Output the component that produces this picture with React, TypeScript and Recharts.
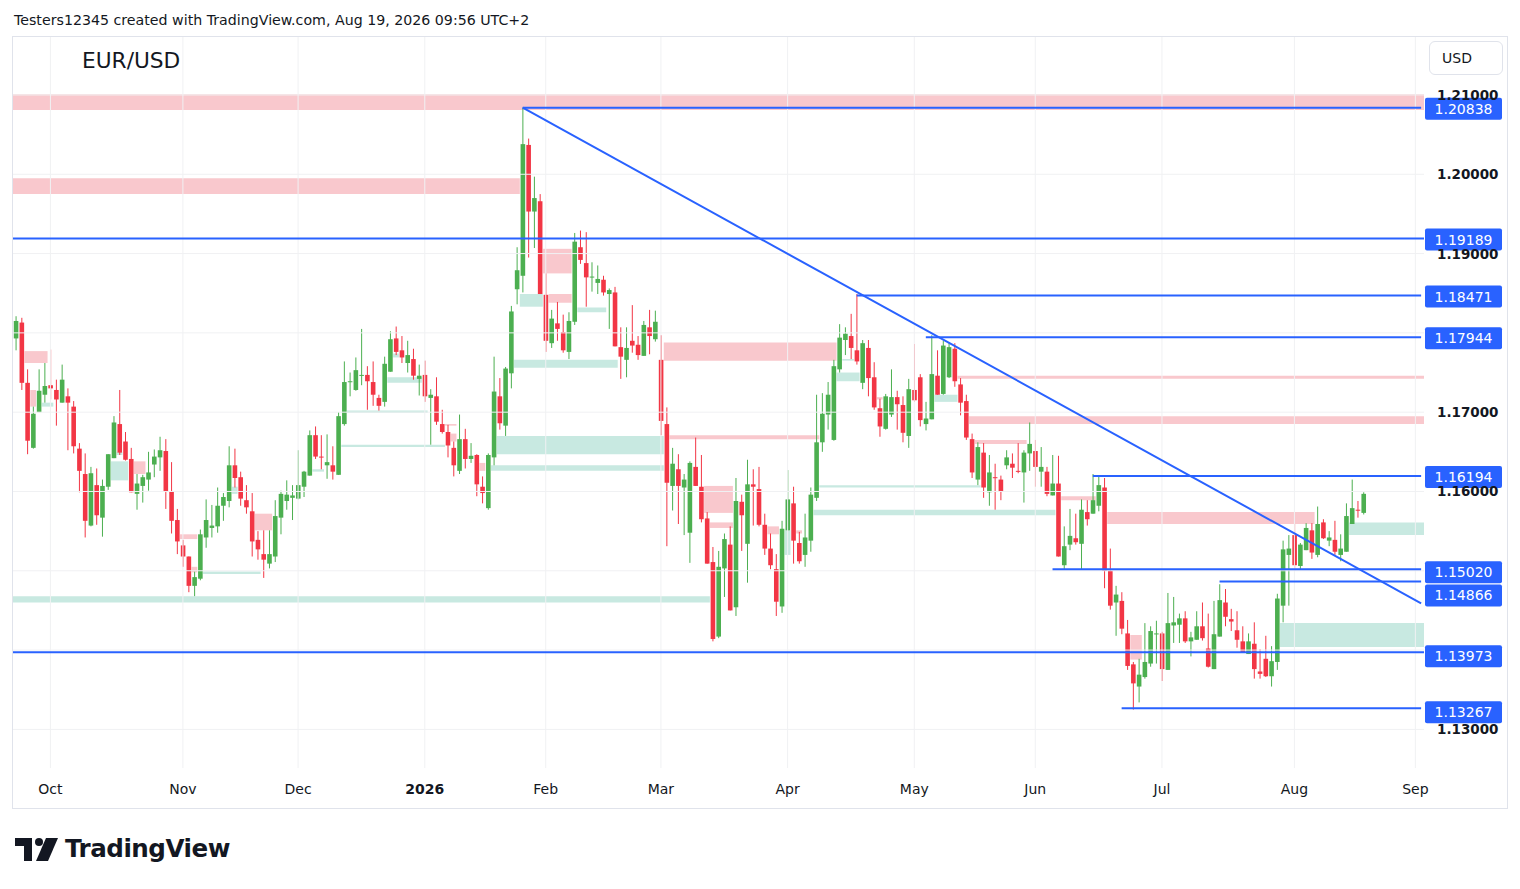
import React from 'react';
import { ComposedChart, Bar, XAxis, YAxis, ReferenceArea, ReferenceLine } from 'recharts';

const FONT = '"DejaVu Sans", Verdana, sans-serif';
const GREEN = '#4caf50';
const RED = '#f23645';
const BLUE = '#2962ff';
const PINK = '#f9c8cd';
const TEAL = '#c8e9e1';
const GRID = '#f0f1f3';
const INK = '#131722';

// daily EUR/USD candles, 2025-09-23 .. 2026-08-19
const open = [
  1.1793, 1.1813, 1.1737, 1.1655, 1.17, 1.1722, 1.1734, 1.1728, 1.1712, 1.172,
  1.1707, 1.1654, 1.1622, 1.1557, 1.1608, 1.1567, 1.1606, 1.1642, 1.1685, 1.1663,
  1.1641, 1.1597, 1.1607, 1.1615, 1.1634, 1.1643, 1.1651, 1.16, 1.1564, 1.1532,
  1.1518, 1.1481, 1.149, 1.1542, 1.1554, 1.1556, 1.1582, 1.1588, 1.1633, 1.1618,
  1.1589, 1.1575, 1.1539, 1.1521, 1.1509, 1.1518, 1.1567, 1.1588, 1.1592, 1.1591,
  1.1606, 1.162, 1.1671, 1.1644, 1.1633, 1.1633, 1.1621, 1.1685, 1.1738, 1.1728,
  1.1746, 1.1747, 1.1738, 1.1718, 1.1713, 1.1751, 1.1793, 1.1778, 1.1762, 1.1767,
  1.1742, 1.1747, 1.1718, 1.172, 1.1685, 1.1675, 1.1655, 1.1626, 1.1666, 1.1641,
  1.1646, 1.1606, 1.1579, 1.1643, 1.172, 1.1683, 1.1749, 1.1855, 1.1872, 1.2037,
  1.1953, 1.1966, 1.1848, 1.1787, 1.1812, 1.1801, 1.1776, 1.1814, 1.1908, 1.1888,
  1.187, 1.1863, 1.1867, 1.1849, 1.1851, 1.1782, 1.1766, 1.179, 1.1785, 1.1771,
  1.1807, 1.1792, 1.1766, 1.1685, 1.1607, 1.1628, 1.1605, 1.1548, 1.1631, 1.1606,
  1.1566, 1.1511, 1.1417, 1.1503, 1.1533, 1.1454, 1.1587, 1.1534, 1.1609, 1.1603,
  1.1558, 1.1528, 1.1502, 1.1455, 1.1551, 1.1585, 1.1535, 1.152, 1.1538, 1.1592,
  1.1662, 1.1697, 1.1665, 1.1754, 1.1791, 1.1796, 1.1778, 1.1737, 1.1781, 1.1744,
  1.1705, 1.1679, 1.1697, 1.1719, 1.1709, 1.167, 1.1728, 1.1744, 1.1685, 1.1691,
  1.1746, 1.1723, 1.1744, 1.178, 1.1735, 1.1714, 1.1666, 1.1615, 1.1649, 1.1599,
  1.1618, 1.1615, 1.1633, 1.1635, 1.1626, 1.1624, 1.1648, 1.1651, 1.1625, 1.1625,
  1.1595, 1.161, 1.1507, 1.1533, 1.1541, 1.1534, 1.1574, 1.1572, 1.1582, 1.1605,
  1.15, 1.146, 1.1462, 1.1421, 1.1382, 1.1354, 1.1366, 1.1383, 1.142, 1.1421,
  1.1375, 1.1431, 1.1432, 1.144, 1.1411, 1.1413, 1.143, 1.1402, 1.1376, 1.1417,
  1.146, 1.1439, 1.1425, 1.1411, 1.1395, 1.1408, 1.1373, 1.1389, 1.1367, 1.1385,
  1.1456, 1.152, 1.1545, 1.1506, 1.1526, 1.1551, 1.152, 1.1561, 1.1538, 1.1539,
  1.152, 1.1524, 1.1559, 1.1577, 1.1573,
];
const high = [
  1.1821, 1.1819, 1.1754, 1.1707, 1.1754, 1.1762, 1.1779, 1.1741, 1.176, 1.173,
  1.1714, 1.1661, 1.1648, 1.1631, 1.1629, 1.1615, 1.1647, 1.1695, 1.1728, 1.1675,
  1.1655, 1.1622, 1.1621, 1.165, 1.1653, 1.1669, 1.1666, 1.1637, 1.1578, 1.1539,
  1.1518, 1.1499, 1.1552, 1.159, 1.1583, 1.1605, 1.1598, 1.1657, 1.1654, 1.1625,
  1.1608, 1.1598, 1.155, 1.1551, 1.1551, 1.1589, 1.1601, 1.1614, 1.1608, 1.1652,
  1.1626, 1.1677, 1.1682, 1.1671, 1.1672, 1.1657, 1.17, 1.1764, 1.175, 1.1769,
  1.1805, 1.1758, 1.1764, 1.1722, 1.177, 1.1802, 1.1808, 1.1796, 1.179, 1.178,
  1.176, 1.1765, 1.1729, 1.1744, 1.1703, 1.1684, 1.1663, 1.1697, 1.1679, 1.1661,
  1.1647, 1.1619, 1.1648, 1.177, 1.1743, 1.1757, 1.1834, 1.1908, 1.2084, 1.2045,
  1.1997, 1.1975, 1.1875, 1.1829, 1.1839, 1.1823, 1.1826, 1.1926, 1.1929, 1.1927,
  1.1889, 1.1885, 1.1872, 1.1856, 1.1858, 1.1807, 1.1807, 1.1835, 1.1796, 1.1815,
  1.1829, 1.1828, 1.1797, 1.1706, 1.1655, 1.1647, 1.1622, 1.1638, 1.1668, 1.1646,
  1.1574, 1.153, 1.1525, 1.1547, 1.1556, 1.1617, 1.1596, 1.164, 1.1628, 1.1631,
  1.1572, 1.1547, 1.1521, 1.1563, 1.1627, 1.1606, 1.1549, 1.1572, 1.1605, 1.1722,
  1.1724, 1.1738, 1.1766, 1.1811, 1.1807, 1.1824, 1.1849, 1.1791, 1.1791, 1.1763,
  1.1717, 1.1723, 1.1754, 1.1727, 1.172, 1.1742, 1.1786, 1.1748, 1.1713, 1.1797,
  1.1778, 1.179, 1.1788, 1.1787, 1.1743, 1.1722, 1.1673, 1.1662, 1.1661, 1.1646,
  1.1635, 1.162, 1.1652, 1.1648, 1.1661, 1.1652, 1.1687, 1.1665, 1.1656, 1.1631,
  1.1646, 1.1645, 1.1556, 1.1578, 1.1572, 1.159, 1.1589, 1.1622, 1.162, 1.1617,
  1.1528, 1.1481, 1.1473, 1.1438, 1.1385, 1.1389, 1.1434, 1.143, 1.1437, 1.1423,
  1.1472, 1.1467, 1.1446, 1.1449, 1.1423, 1.1449, 1.146, 1.1446, 1.1462, 1.1483,
  1.1477, 1.1452, 1.1449, 1.143, 1.1421, 1.1435, 1.1401, 1.1418, 1.1405, 1.1471,
  1.1538, 1.1545, 1.1559, 1.1535, 1.156, 1.156, 1.1581, 1.1565, 1.155, 1.1563,
  1.1546, 1.1585, 1.1615, 1.1588, 1.1599,
];
const low = [
  1.1778, 1.1728, 1.1647, 1.1654, 1.17, 1.1712, 1.1716, 1.1683, 1.1712, 1.1652,
  1.1648, 1.1599, 1.1542, 1.1556, 1.1558, 1.1543, 1.1602, 1.1642, 1.1646, 1.1639,
  1.1599, 1.1577, 1.1586, 1.1601, 1.1618, 1.1626, 1.1578, 1.1547, 1.1521, 1.1505,
  1.1473, 1.1468, 1.1488, 1.1529, 1.1542, 1.1548, 1.1563, 1.158, 1.1605, 1.1582,
  1.1572, 1.1518, 1.1514, 1.1491, 1.1503, 1.1511, 1.1546, 1.1577, 1.1564, 1.159,
  1.1593, 1.162, 1.1641, 1.1628, 1.1616, 1.1615, 1.1621, 1.1683, 1.172, 1.1727,
  1.1734, 1.1703, 1.1708, 1.1702, 1.1707, 1.1751, 1.1772, 1.1762, 1.175, 1.1741,
  1.1721, 1.1713, 1.1659, 1.1684, 1.1673, 1.1643, 1.1619, 1.1622, 1.1629, 1.1636,
  1.1594, 1.1585, 1.1577, 1.1633, 1.1678, 1.167, 1.173, 1.1836, 1.1851, 1.1895,
  1.1907, 1.1849, 1.1776, 1.1781, 1.179, 1.1775, 1.1767, 1.181, 1.1887, 1.1833,
  1.1852, 1.1849, 1.1847, 1.1805, 1.1783, 1.1742, 1.1744, 1.1775, 1.1766, 1.1771,
  1.1773, 1.1789, 1.1671, 1.1531, 1.1576, 1.1559, 1.1545, 1.151, 1.1607, 1.1561,
  1.1509, 1.1411, 1.1415, 1.1467, 1.145, 1.1443, 1.1525, 1.1485, 1.1557, 1.1556,
  1.152, 1.1502, 1.1443, 1.1447, 1.1551, 1.1509, 1.1509, 1.1505, 1.1524, 1.1588,
  1.165, 1.1678, 1.1664, 1.175, 1.1772, 1.1767, 1.176, 1.1729, 1.172, 1.1703,
  1.1669, 1.1678, 1.1694, 1.1678, 1.1662, 1.1655, 1.1713, 1.1682, 1.1677, 1.1691,
  1.1722, 1.1722, 1.1743, 1.1732, 1.1696, 1.1665, 1.1617, 1.1608, 1.1592, 1.1582,
  1.1577, 1.1589, 1.1628, 1.1617, 1.1623, 1.1586, 1.1626, 1.1606, 1.1606, 1.1594,
  1.1595, 1.1518, 1.1501, 1.1526, 1.1533, 1.1502, 1.1557, 1.1572, 1.1575, 1.1478,
  1.1451, 1.1418, 1.142, 1.1375, 1.1325, 1.1334, 1.1364, 1.1379, 1.1383, 1.1361,
  1.1375, 1.1409, 1.1409, 1.1409, 1.1392, 1.1413, 1.1412, 1.1378, 1.1376, 1.1417,
  1.143, 1.1424, 1.1403, 1.1397, 1.1395, 1.1364, 1.1364, 1.1366, 1.1354, 1.1375,
  1.1435, 1.1456, 1.15, 1.1502, 1.1526, 1.1515, 1.1517, 1.154, 1.1531, 1.152,
  1.1512, 1.1524, 1.1559, 1.1567, 1.1571,
];
const close = [
  1.1815, 1.1737, 1.1664, 1.1698, 1.1727, 1.1733, 1.173, 1.1716, 1.1741, 1.1712,
  1.1657, 1.1626, 1.1563, 1.1623, 1.157, 1.1607, 1.1647, 1.1687, 1.1649, 1.164,
  1.1599, 1.161, 1.1618, 1.1624, 1.1644, 1.1652, 1.16, 1.1563, 1.1537, 1.1518,
  1.1481, 1.1492, 1.1546, 1.1564, 1.1557, 1.1582, 1.1593, 1.1633, 1.1617, 1.1591,
  1.158, 1.1537, 1.1527, 1.1514, 1.1521, 1.1569, 1.1597, 1.1596, 1.1595, 1.1608,
  1.1625, 1.1671, 1.1644, 1.1643, 1.1637, 1.1625, 1.1695, 1.1738, 1.1739, 1.1753,
  1.1747, 1.1739, 1.1722, 1.1708, 1.1761, 1.1792, 1.1776, 1.1769, 1.1772, 1.1746,
  1.1746, 1.172, 1.1722, 1.1688, 1.1675, 1.1658, 1.1633, 1.1666, 1.1641, 1.1645,
  1.1609, 1.1598, 1.1646, 1.1726, 1.1686, 1.1755, 1.1827, 1.1879, 1.2038, 1.1953,
  1.197, 1.1849, 1.179, 1.1818, 1.1805, 1.1778, 1.1815, 1.1915, 1.1892, 1.187,
  1.1871, 1.1868, 1.1851, 1.1854, 1.1783, 1.177, 1.1781, 1.1784, 1.1772, 1.181,
  1.1796, 1.1814, 1.1689, 1.1611, 1.1635, 1.1607, 1.1615, 1.1636, 1.1607, 1.1565,
  1.1509, 1.1414, 1.1505, 1.154, 1.145, 1.1588, 1.157, 1.1609, 1.1606, 1.1558,
  1.1528, 1.1507, 1.1461, 1.1553, 1.159, 1.1538, 1.1512, 1.1542, 1.1596, 1.1662,
  1.1698, 1.1722, 1.1758, 1.1794, 1.1799, 1.1781, 1.1764, 1.1787, 1.1743, 1.1706,
  1.1682, 1.172, 1.1719, 1.171, 1.1674, 1.1729, 1.1715, 1.169, 1.1692, 1.1748,
  1.1722, 1.1784, 1.1782, 1.1739, 1.1712, 1.1668, 1.1624, 1.1656, 1.1605, 1.1624,
  1.1617, 1.16, 1.1643, 1.163, 1.1625, 1.1649, 1.166, 1.1631, 1.1631, 1.1597,
  1.161, 1.1518, 1.1531, 1.1544, 1.1536, 1.1577, 1.1565, 1.1589, 1.1608, 1.15,
  1.1456, 1.147, 1.1427, 1.138, 1.1358, 1.1369, 1.1385, 1.1424, 1.1421, 1.1376,
  1.1434, 1.1435, 1.144, 1.1411, 1.1416, 1.143, 1.1415, 1.1379, 1.142, 1.1463,
  1.1442, 1.1436, 1.1413, 1.1397, 1.1411, 1.1376, 1.137, 1.1367, 1.1386, 1.1465,
  1.1527, 1.1528, 1.1507, 1.1533, 1.1554, 1.1523, 1.1559, 1.1541, 1.1542, 1.1524,
  1.1528, 1.1569, 1.1579, 1.1576, 1.1597,
];

const monthTicks = ['2025-10-01', '2025-11-03', '2025-12-01', '2026-01-02', '2026-02-02', '2026-03-02', '2026-04-01', '2026-05-01', '2026-06-01', '2026-07-01', '2026-08-03', '2026-09-01'];
const monthLabels = ['Oct', 'Nov', 'Dec', '2026', 'Feb', 'Mar', 'Apr', 'May', 'Jun', 'Jul', 'Aug', 'Sep'];
const priceTicks = [1.13, 1.16, 1.17, 1.19, 1.2, 1.21];
const gridPrices = [1.13, 1.14, 1.15, 1.16, 1.17, 1.18, 1.19, 1.2, 1.21];

// supply (pink) / demand (teal) boxes: [kind, from, to, top, bottom]
const zones: [string, string, string, number, number][] = [
  ['p', '2025-09-23', '2026-09-02', 1.2101, 1.2081],
  ['p', '2025-09-23', '2026-01-26', 1.1995, 1.1975],
  ['t', '2025-09-23', '2026-03-12', 1.1468, 1.146],
  ['p', '2025-09-25', '2025-09-30', 1.1777, 1.1762],
  ['p', '2025-09-26', '2025-09-26', 1.1728, 1.1707],
  ['t', '2025-09-30', '2025-10-01', 1.1712, 1.1707],
  ['t', '2025-10-16', '2025-10-20', 1.1638, 1.1614],
  ['t', '2025-10-17', '2025-10-17', 1.165, 1.1646],
  ['p', '2025-10-22', '2025-10-23', 1.1638, 1.1622],
  ['p', '2025-11-03', '2025-11-05', 1.1546, 1.154],
  ['p', '2025-11-05', '2025-11-05', 1.1505, 1.1498],
  ['t', '2025-11-07', '2025-11-20', 1.1499, 1.1496],
  ['t', '2025-11-14', '2025-11-14', 1.1606, 1.1597],
  ['p', '2025-11-20', '2025-11-24', 1.1572, 1.1551],
  ['t', '2025-12-04', '2025-12-05', 1.1628, 1.1625],
  ['t', '2025-12-12', '2026-01-02', 1.1702, 1.1699],
  ['t', '2025-12-11', '2026-01-07', 1.1659, 1.1656],
  ['t', '2025-12-24', '2025-12-24', 1.1774, 1.1769],
  ['t', '2025-12-23', '2025-12-31', 1.1744, 1.1737],
  ['p', '2026-01-08', '2026-01-09', 1.1685, 1.1683],
  ['p', '2026-01-09', '2026-01-09', 1.1673, 1.1663],
  ['p', '2026-01-16', '2026-01-16', 1.1636, 1.1626],
  ['t', '2026-01-21', '2026-03-02', 1.167, 1.1647],
  ['t', '2026-01-20', '2026-03-02', 1.1633, 1.1626],
  ['t', '2026-01-26', '2026-02-18', 1.1766, 1.1756],
  ['t', '2026-01-27', '2026-01-30', 1.1849, 1.1833],
  ['p', '2026-02-02', '2026-02-06', 1.1906, 1.1875],
  ['p', '2026-02-03', '2026-02-06', 1.1849, 1.1838],
  ['t', '2026-02-10', '2026-02-16', 1.1832, 1.1826],
  ['p', '2026-03-03', '2026-04-13', 1.1788, 1.1765],
  ['p', '2026-03-04', '2026-04-08', 1.1671, 1.1666],
  ['p', '2026-03-12', '2026-03-18', 1.1607, 1.1573],
  ['p', '2026-03-13', '2026-03-18', 1.1561, 1.1554],
  ['p', '2026-03-27', '2026-03-30', 1.1556, 1.1546],
  ['p', '2026-04-03', '2026-04-03', 1.1551, 1.1547],
  ['t', '2026-04-01', '2026-04-01', 1.1551, 1.152],
  ['t', '2026-04-08', '2026-06-04', 1.1577, 1.157],
  ['t', '2026-04-09', '2026-05-18', 1.1608, 1.1605],
  ['t', '2026-04-14', '2026-04-17', 1.175, 1.1739],
  ['t', '2026-04-15', '2026-04-16', 1.1767, 1.1765],
  ['p', '2026-04-23', '2026-04-23', 1.1719, 1.1716],
  ['t', '2026-05-07', '2026-05-12', 1.1722, 1.1713],
  ['p', '2026-05-13', '2026-09-02', 1.1746, 1.1742],
  ['p', '2026-05-15', '2026-09-02', 1.1695, 1.1685],
  ['p', '2026-05-18', '2026-05-28', 1.1665, 1.166],
  ['p', '2026-06-08', '2026-06-15', 1.1594, 1.1589],
  ['p', '2026-06-18', '2026-08-06', 1.1574, 1.1559],
  ['p', '2026-06-24', '2026-06-25', 1.1419, 1.1388],
  ['t', '2026-08-17', '2026-09-02', 1.1561, 1.1545],
  ['t', '2026-07-30', '2026-09-02', 1.1434, 1.1404],
];

// horizontal levels: [price, from]; from = null means full width
const levels: [number, string | null][] = [
  [1.20838, '2026-01-27'],
  [1.19189, null],
  [1.18471, '2026-04-17'],
  [1.17944, '2026-05-05'],
  [1.16194, '2026-06-15'],
  [1.1502, '2026-06-04'],
  [1.14866, '2026-07-15'],
  [1.13973, null],
  [1.13267, '2026-06-22'],
];
// price-scale labels get pushed apart where they would collide
const badgeNudge: Record<string, number> = { '1.15020': 2, '1.14866': 13, '1.13973': 3, '1.13267': 3 };
const trendFrom: [string, number] = ['2026-01-27', 1.2084];
const trendTo: [string, number] = ['2026-09-02', 1.1459];
const LAST = '2026-09-02';

function tradingDays(start: string, end: string) {
  const out: string[] = [];
  const d = new Date(start + 'T00:00:00Z');
  const e = new Date(end + 'T00:00:00Z');
  const closed = ['2025-12-25', '2026-01-01'];
  while (d <= e) {
    const wd = d.getUTCDay();
    const s = d.toISOString().slice(0, 10);
    if (wd !== 0 && wd !== 6 && !closed.includes(s)) out.push(s);
    d.setUTCDate(d.getUTCDate() + 1);
  }
  return out;
}

const days = tradingDays('2025-09-23', LAST);
const data = days.map((d, i) =>
  i < open.length ? { d, o: open[i], h: high[i], l: low[i], c: close[i], range: [low[i], high[i]] } : { d }
);

const Candle = (p: any) => {
  const { x, y, width, height, payload } = p;
  if (!payload || payload.o == null) return null;
  const top = Math.min(y, y + height);
  const bot = Math.max(y, y + height);
  const k = (bot - top) / (payload.h - payload.l || 1);
  const py = (v: number) => top + (payload.h - v) * k;
  const col = payload.c >= payload.o ? GREEN : RED;
  const cx = x + width / 2;
  const yo = py(payload.o);
  const yc = py(payload.c);
  return (
    <g>
      <line x1={cx} x2={cx} y1={top} y2={bot} stroke={col} strokeWidth={1} />
      <rect x={cx - 2.3} y={Math.min(yo, yc)} width={4.6} height={Math.max(1, Math.abs(yc - yo))} fill={col} />
    </g>
  );
};

const MonthTick = ({ x, payload }: any) => {
  const lab = monthLabels[monthTicks.indexOf(payload.value)];
  return (
    <text x={x} y={794} textAnchor="middle" fontSize={14} fontFamily={FONT} fill={INK} fontWeight={lab === '2026' ? 'bold' : 'normal'}>
      {lab}
    </text>
  );
};

const PriceTick = ({ y, payload }: any) => (
  <text x={1437} y={y + 5} fontSize={13.5} fontWeight="bold" fontFamily={FONT} fill={INK}>
    {payload.value.toFixed(5)}
  </text>
);

const Badge = ({ viewBox, value }: any) => {
  const cy = viewBox.y + 1 + (badgeNudge[value] || 0);
  return (
    <g>
      <rect x={1425} y={cy - 11} width={77} height={22} rx={2} fill={BLUE} />
      <text x={1463.5} y={cy + 5} textAnchor="middle" fontSize={14} fontFamily={FONT} fill="#fff">
        {value}
      </text>
    </g>
  );
};

export default function App() {
  return (
    <div style={{ position: 'absolute', left: 0, top: 0, width: 1520, height: 889, background: '#fff', fontFamily: FONT, color: INK }}>
      <div style={{ position: 'absolute', left: 14, top: 11, fontSize: 14.2, lineHeight: '18px', whiteSpace: 'nowrap' }}>
        Testers12345 created with TradingView.com, Aug 19, 2026 09:56 UTC+2
      </div>
      <div style={{ position: 'absolute', left: 12, top: 36, width: 1494, height: 771, border: '1px solid #e0e3eb' }} />
      <div style={{ position: 'absolute', left: 0, top: 0 }}>
        <ComposedChart width={1520} height={889} data={data} margin={{ top: 37, right: 13, bottom: 81, left: 13 }}>
          {gridPrices.map((v) => (
            <ReferenceLine key={'g' + v} y={v} stroke={GRID} strokeWidth={1} />
          ))}
          {monthTicks.map((d) => (
            <ReferenceLine key={'v' + d} x={d} stroke={GRID} strokeWidth={1} />
          ))}
          {zones.map(([k, a, b, t, btm], i) => (
            <ReferenceArea key={'z' + i} x1={a} x2={b} y1={btm} y2={t} fill={k === 'p' ? PINK : TEAL} fillOpacity={1} stroke="none" ifOverflow="visible" />
          ))}
          <Bar dataKey="range" shape={Candle} isAnimationActive={false} />
          <XAxis dataKey="d" ticks={monthTicks} interval={0} tick={<MonthTick />} axisLine={false} tickLine={false} height={40} />
          <YAxis orientation="right" width={83} type="number" domain={[1.12513, 1.21731]} allowDataOverflow ticks={priceTicks} tick={<PriceTick />} axisLine={false} tickLine={false} />
          <ReferenceLine
            segment={[{ x: trendFrom[0], y: trendFrom[1] }, { x: trendTo[0], y: trendTo[1] }]}
            stroke={BLUE}
            strokeWidth={2}
            ifOverflow="visible"
          />
          {levels.map(([p, from]) =>
            from ? (
              <ReferenceLine
                key={'l' + p}
                segment={[{ x: from, y: p }, { x: LAST, y: p }]}
                stroke={BLUE}
                strokeWidth={2}
                ifOverflow="visible"
                label={<Badge value={p.toFixed(5)} />}
              />
            ) : (
              <ReferenceLine key={'l' + p} y={p} stroke={BLUE} strokeWidth={2} label={<Badge value={p.toFixed(5)} />} />
            )
          )}
        </ComposedChart>
      </div>
      <div style={{ position: 'absolute', left: 82, top: 48, fontSize: 21.7, lineHeight: '26px' }}>EUR/USD</div>
      <div style={{ position: 'absolute', left: 1429, top: 41, width: 60, height: 32, paddingLeft: 12, border: '1px solid #e0e3eb', borderRadius: 6, fontSize: 14, lineHeight: '32px', background: '#fff' }}>
        USD
      </div>
      <svg style={{ position: 'absolute', left: 15, top: 837 }} width={46} height={26}>
        <path d="M0 1 H17 V24 H9 V9 H0 Z" fill={INK} />
        <circle cx={24} cy={5} r={4} fill={INK} />
        <path d="M31 1 H43 L33 24 H21 Z" fill={INK} />
      </svg>
      <div style={{ position: 'absolute', left: 65, top: 833, fontSize: 24.6, fontWeight: 'bold', lineHeight: '32px', letterSpacing: -0.5 }}>
        TradingView
      </div>
    </div>
  );
}
